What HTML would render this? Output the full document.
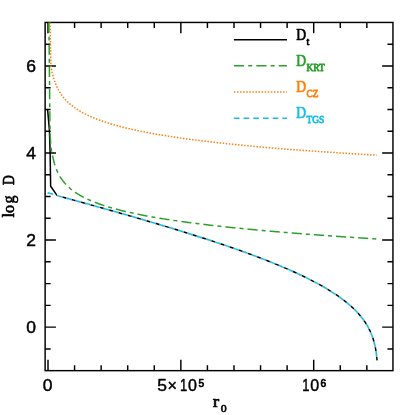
<!DOCTYPE html>
<html><head><meta charset="utf-8"><title>plot</title>
<style>html,body{margin:0;padding:0;background:#fff;}svg{display:block;}text{font-family:"Liberation Sans",sans-serif;}</style></head><body>
<svg width="415" height="415" viewBox="0 0 415 415">
<rect width="415" height="415" fill="#fff"/>
<g stroke="#000" stroke-width="1.45" fill="none" stroke-linecap="butt">
<rect x="45.13" y="22.45" width="347.82" height="348.20"/>
<path d="M48.00 370.65 v-10.8 M48.00 22.45 v10.8"/>
<path d="M74.57 370.65 v-5.5 M74.57 22.45 v5.5"/>
<path d="M101.14 370.65 v-5.5 M101.14 22.45 v5.5"/>
<path d="M127.71 370.65 v-5.5 M127.71 22.45 v5.5"/>
<path d="M154.28 370.65 v-5.5 M154.28 22.45 v5.5"/>
<path d="M180.85 370.65 v-10.8 M180.85 22.45 v10.8"/>
<path d="M207.42 370.65 v-5.5 M207.42 22.45 v5.5"/>
<path d="M233.99 370.65 v-5.5 M233.99 22.45 v5.5"/>
<path d="M260.56 370.65 v-5.5 M260.56 22.45 v5.5"/>
<path d="M287.13 370.65 v-5.5 M287.13 22.45 v5.5"/>
<path d="M313.70 370.65 v-10.8 M313.70 22.45 v10.8"/>
<path d="M340.27 370.65 v-5.5 M340.27 22.45 v5.5"/>
<path d="M366.84 370.65 v-5.5 M366.84 22.45 v5.5"/>
<path d="M45.13 348.90 h5.5 M392.95 348.90 h-5.5"/>
<path d="M45.13 327.14 h10.8 M392.95 327.14 h-10.8"/>
<path d="M45.13 305.38 h5.5 M392.95 305.38 h-5.5"/>
<path d="M45.13 283.61 h5.5 M392.95 283.61 h-5.5"/>
<path d="M45.13 261.84 h5.5 M392.95 261.84 h-5.5"/>
<path d="M45.13 240.08 h10.8 M392.95 240.08 h-10.8"/>
<path d="M45.13 218.31 h5.5 M392.95 218.31 h-5.5"/>
<path d="M45.13 196.55 h5.5 M392.95 196.55 h-5.5"/>
<path d="M45.13 174.78 h5.5 M392.95 174.78 h-5.5"/>
<path d="M45.13 153.02 h10.8 M392.95 153.02 h-10.8"/>
<path d="M45.13 131.25 h5.5 M392.95 131.25 h-5.5"/>
<path d="M45.13 109.49 h5.5 M392.95 109.49 h-5.5"/>
<path d="M45.13 87.72 h5.5 M392.95 87.72 h-5.5"/>
<path d="M45.13 65.96 h10.8 M392.95 65.96 h-10.8"/>
<path d="M45.13 44.19 h5.5 M392.95 44.19 h-5.5"/>
</g>
<path d="M47.60 109.60 L49.40 130.00 L50.10 151.70 L50.65 186.30 L57.00 195.40 L59.38 196.23 L61.76 196.88 L64.13 197.53 L66.51 198.18 L68.89 198.83 L71.27 199.48 L73.65 200.13 L76.03 200.78 L78.40 201.44 L80.78 202.09 L83.16 202.75 L85.54 203.41 L87.92 204.07 L90.29 204.72 L92.67 205.39 L95.05 206.05 L97.43 206.71 L99.81 207.37 L102.18 208.04 L104.56 208.71 L106.94 209.38 L109.32 210.05 L111.70 210.72 L114.08 211.39 L116.45 212.06 L118.83 212.74 L121.21 213.42 L123.59 214.09 L125.97 214.77 L128.34 215.46 L130.72 216.14 L133.10 216.83 L135.48 217.51 L137.86 218.20 L140.24 218.89 L142.61 219.59 L144.99 220.28 L147.37 220.98 L149.75 221.68 L152.13 222.38 L154.50 223.08 L156.88 223.79 L159.26 224.50 L161.64 225.21 L164.02 225.92 L166.39 226.64 L168.77 227.36 L171.15 228.08 L173.53 228.80 L175.91 229.53 L178.29 230.26 L180.66 230.99 L183.04 231.73 L185.42 232.46 L187.80 233.21 L190.18 233.95 L192.55 234.70 L194.93 235.45 L197.31 236.21 L199.69 236.97 L202.07 237.73 L204.45 238.50 L206.82 239.27 L209.20 240.04 L211.58 240.82 L213.96 241.61 L216.34 242.39 L218.71 243.19 L221.09 243.98 L223.47 244.79 L225.85 245.60 L228.23 246.41 L230.61 247.23 L232.98 248.05 L235.36 248.88 L237.74 249.72 L240.12 250.56 L242.50 251.41 L244.87 252.26 L247.25 253.12 L249.63 253.99 L252.01 254.87 L254.39 255.75 L256.76 256.64 L259.14 257.54 L261.52 258.45 L263.90 259.37 L266.28 260.29 L268.66 261.23 L271.03 262.17 L273.41 263.13 L275.79 264.10 L278.17 265.07 L280.55 266.06 L282.92 267.07 L285.30 268.08 L287.68 269.11 L290.06 270.15 L292.44 271.21 L294.82 272.28 L297.19 273.37 L299.57 274.48 L301.95 275.60 L304.33 276.75 L306.71 277.91 L309.08 279.10 L311.46 280.31 L313.84 281.55 L316.22 282.81 L318.60 284.10 L320.97 285.42 L323.35 286.77 L325.73 288.16 L328.11 289.58 L330.49 291.05 L332.87 292.56 L335.24 294.13 L337.62 295.74 L340.00 297.42 L340.51 297.79 L341.02 298.16 L341.53 298.53 L342.03 298.91 L342.54 299.29 L343.05 299.68 L343.56 300.06 L344.07 300.45 L344.58 300.85 L345.08 301.25 L345.59 301.65 L346.10 302.06 L346.61 302.47 L347.12 302.88 L347.63 303.30 L348.14 303.73 L348.64 304.16 L349.15 304.59 L349.66 305.03 L350.17 305.48 L350.68 305.93 L351.19 306.38 L351.69 306.84 L352.20 307.31 L352.71 307.79 L353.22 308.27 L353.73 308.75 L354.24 309.25 L354.75 309.75 L355.25 310.26 L355.76 310.77 L356.27 311.30 L356.78 311.83 L357.29 312.37 L357.80 312.92 L358.31 313.48 L358.81 314.05 L359.32 314.63 L359.83 315.23 L360.34 315.83 L360.85 316.45 L361.36 317.07 L361.86 317.72 L362.37 318.38 L362.88 319.05 L363.39 319.74 L363.90 320.44 L364.41 321.17 L364.92 321.91 L365.42 322.68 L365.93 323.47 L366.44 324.28 L366.95 325.12 L367.46 325.99 L367.97 326.89 L368.47 327.83 L368.98 328.80 L369.49 329.82 L370.00 330.88 L370.06 331.01 L370.12 331.14 L370.18 331.27 L370.24 331.40 L370.30 331.53 L370.36 331.66 L370.42 331.80 L370.48 331.93 L370.54 332.07 L370.60 332.20 L370.66 332.34 L370.72 332.47 L370.78 332.61 L370.84 332.75 L370.90 332.89 L370.96 333.03 L371.02 333.17 L371.08 333.32 L371.14 333.46 L371.20 333.60 L371.26 333.75 L371.32 333.89 L371.38 334.04 L371.44 334.19 L371.50 334.34 L371.56 334.49 L371.62 334.64 L371.68 334.79 L371.74 334.95 L371.79 335.10 L371.85 335.26 L371.91 335.42 L371.97 335.58 L372.03 335.73 L372.09 335.90 L372.15 336.06 L372.21 336.22 L372.27 336.39 L372.33 336.55 L372.39 336.72 L372.45 336.89 L372.51 337.06 L372.57 337.23 L372.63 337.40 L372.69 337.58 L372.75 337.76 L372.81 337.93 L372.87 338.11 L372.93 338.29 L372.99 338.48 L373.05 338.66 L373.11 338.85 L373.17 339.04 L373.23 339.23 L373.29 339.42 L373.35 339.61 L373.41 339.81 L373.47 340.01 L373.53 340.21 L373.59 340.41 L373.65 340.61 L373.71 340.82 L373.77 341.03 L373.83 341.24 L373.89 341.45 L373.95 341.67 L374.01 341.89 L374.07 342.11 L374.13 342.33 L374.19 342.56 L374.25 342.79 L374.31 343.02 L374.37 343.25 L374.43 343.49 L374.49 343.74 L374.55 343.98 L374.61 344.23 L374.67 344.48 L374.73 344.74 L374.79 345.00 L374.85 345.26 L374.91 345.53 L374.97 345.80 L375.03 346.07 L375.09 346.35 L375.15 346.64 L375.21 346.93 L375.27 347.22 L375.33 347.52 L375.38 347.83 L375.44 348.14 L375.50 348.46 L375.56 348.78 L375.62 349.11 L375.68 349.45 L375.74 349.79 L375.80 350.15 L375.86 350.50 L375.92 350.87 L375.98 351.25 L376.04 351.63 L376.10 352.03 L376.16 352.44 L376.22 352.85 L376.28 353.28 L376.34 353.72 L376.40 354.17 L376.46 354.64 L376.52 355.12 L376.58 355.62 L376.64 356.14 L376.70 356.67 L376.76 357.23 L376.82 357.81 L376.88 358.41 L376.94 359.04 L377.00 359.69 L377.06 360.38" fill="none" stroke="#000" stroke-width="1.5" stroke-linejoin="round"/>
<path d="M48.90 22.45 L48.91 23.13 L48.91 23.80 L48.92 24.48 L48.93 25.15 L48.94 25.83 L48.94 26.50 L48.95 27.18 L48.96 27.86 L48.97 28.53 L48.97 29.21 L48.98 29.88 L48.99 30.56 L49.00 31.23 L49.00 31.91 L49.01 32.58 L49.02 33.26 L49.03 33.94 L49.03 34.61 L49.04 35.29 L49.05 35.96 L49.05 36.64 L49.06 37.31 L49.07 37.99 L49.08 38.67 L49.08 39.34 L49.09 40.02 L49.10 40.69 L49.10 41.37 L49.11 42.04 L49.12 42.72 L49.13 43.39 L49.13 44.07 L49.14 44.75 L49.15 45.42 L49.15 46.10 L49.16 46.77 L49.17 47.45 L49.18 48.12 L49.18 48.80 L49.19 49.48 L49.20 50.15 L49.20 50.83 L49.21 51.50 L49.22 52.18 L49.23 52.85 L49.23 53.53 L49.24 54.20 L49.25 54.88 L49.25 55.56 L49.26 56.23 L49.27 56.91 L49.28 57.58 L49.28 58.26 L49.29 58.93 L49.30 59.61 L49.30 60.29 L49.31 60.96 L49.32 61.64 L49.32 62.31 L49.33 62.99 L49.34 63.66 L49.34 64.34 L49.35 65.01 L49.36 65.69 L49.36 66.37 L49.37 67.04 L49.38 67.72 L49.39 68.39 L49.39 69.07 L49.40 69.74 L49.41 70.42 L49.41 71.10 L49.42 71.77 L49.43 72.45 L49.43 73.12 L49.44 73.80 L49.45 74.47 L49.45 75.15 L49.46 75.82 L49.47 76.50 L49.47 77.18 L49.48 77.85 L49.49 78.53 L49.49 79.20 L49.50 79.88 L49.51 80.55 L49.51 81.23 L49.52 81.91 L49.53 82.58 L49.53 83.26 L49.54 83.93 L49.55 84.61 L49.55 85.28 L49.56 85.96 L49.57 86.63 L49.57 87.31 L49.58 87.99 L49.59 88.66 L49.59 89.34 L49.60 90.01 L49.61 90.69 L49.61 91.36 L49.62 92.04 L49.63 92.72 L49.63 93.39 L49.64 94.07 L49.65 94.74 L49.65 95.42 L49.66 96.09 L49.66 96.77 L49.67 97.44 L49.68 98.12 L49.68 98.80 L49.69 99.47 L49.70 100.15 L49.70 100.82 L49.71 101.50 L49.72 102.17 L49.72 102.85 L49.73 103.53 L49.74 104.20 L49.74 104.88 L49.75 105.55 L49.76 106.23 L49.76 106.90 L49.77 107.58 L49.78 108.25 L49.79 108.93 L49.80 109.61 L49.80 110.28 L49.81 110.96 L49.82 111.63 L49.83 112.31 L49.84 112.98 L49.84 113.66 L49.85 114.34 L49.86 115.01 L49.87 115.69 L49.87 116.36 L49.88 117.04 L49.89 117.71 L49.90 118.39 L49.91 119.06 L49.91 119.74 L49.92 120.42 L49.93 121.09 L49.94 121.77 L49.95 122.44 L49.96 123.12 L49.97 123.79 L49.98 124.47 L49.99 125.15 L50.00 125.82 L50.01 126.50 L50.02 127.17 L50.04 127.85 L50.05 128.52 L50.06 129.20 L50.08 129.87 L50.09 130.55 L50.11 131.23 L50.12 131.90 L50.14 132.58 L50.15 133.25 L50.17 133.93 L50.19 134.60 L50.21 135.28 L50.23 135.96 L50.26 136.63 L50.29 137.31 L50.33 137.98 L50.36 138.66 L50.41 139.33 L50.45 140.01 L50.50 140.68 L50.55 141.36 L50.60 142.04 L50.65 142.71 L50.71 143.39 L50.76 144.06 L50.82 144.74 L50.88 145.41 L50.95 146.09 L51.02 146.77 L51.10 147.44 L51.18 148.12 L51.26 148.79 L51.35 149.47 L51.45 150.14 L51.55 150.82 L51.66 151.49 L51.78 152.17 L51.91 152.85 L52.05 153.52 L52.19 154.20 L52.34 154.87 L52.49 155.55 L52.64 156.22 L52.80 156.90 L53.11 158.34 L53.43 159.71 L53.74 160.98 L54.05 162.17 L54.36 163.29 L54.68 164.35 L54.99 165.35 L55.30 166.30 L55.61 167.20 L55.93 168.05 L56.24 168.87 L56.55 169.65 L56.86 170.40 L57.18 171.12 L57.49 171.81 L57.80 172.48 L58.11 173.12 L58.43 173.74 L58.74 174.34 L59.05 174.92 L59.36 175.48 L59.68 176.03 L59.99 176.56 L60.30 177.07 L60.62 177.57 L60.93 178.05 L61.24 178.52 L61.55 178.98 L61.87 179.43 L62.18 179.87 L62.49 180.29 L62.80 180.71 L63.12 181.12 L63.43 181.51 L63.74 181.90 L64.05 182.28 L64.37 182.66 L64.68 183.02 L64.99 183.38 L65.30 183.73 L65.62 184.07 L65.93 184.41 L66.24 184.74 L66.55 185.06 L66.87 185.38 L67.18 185.70 L67.49 186.00 L67.81 186.30 L68.12 186.60 L68.43 186.89 L68.74 187.18 L69.06 187.46 L69.37 187.74 L69.68 188.02 L69.99 188.29 L70.31 188.55 L70.62 188.82 L70.93 189.07 L71.24 189.33 L71.56 189.58 L71.87 189.83 L72.18 190.07 L72.49 190.31 L72.81 190.55 L73.12 190.78 L73.43 191.01 L73.74 191.24 L74.06 191.47 L74.37 191.69 L74.68 191.91 L74.99 192.13 L75.31 192.34 L75.62 192.55 L75.93 192.76 L76.25 192.97 L76.56 193.17 L76.87 193.37 L77.18 193.57 L77.50 193.77 L77.81 193.97 L78.12 194.16 L78.43 194.35 L78.75 194.54 L79.06 194.73 L79.37 194.91 L79.68 195.10 L80.00 195.28 L80.31 195.46 L80.62 195.64 L80.93 195.81 L81.25 195.99 L81.56 196.16 L81.87 196.33 L82.18 196.50 L82.50 196.67 L82.81 196.83 L83.12 197.00 L83.44 197.16 L83.75 197.32 L84.06 197.48 L84.37 197.64 L84.69 197.80 L85.00 197.96 L85.31 198.11 L85.62 198.26 L85.94 198.42 L86.25 198.57 L86.56 198.72 L86.87 198.86 L87.19 199.01 L87.50 199.16 L87.81 199.30 L88.12 199.44 L88.44 199.59 L88.75 199.73 L89.06 199.87 L89.37 200.01 L89.69 200.15 L90.00 200.28 L91.15 200.78 L92.31 201.26 L93.46 201.73 L94.61 202.19 L95.77 202.64 L96.92 203.07 L98.07 203.50 L99.23 203.92 L100.38 204.32 L101.53 204.72 L102.69 205.11 L103.84 205.49 L104.99 205.87 L106.15 206.23 L107.30 206.59 L108.45 206.94 L109.61 207.29 L110.76 207.63 L111.91 207.96 L113.07 208.29 L114.22 208.61 L115.38 208.92 L116.53 209.23 L117.68 209.54 L118.84 209.84 L119.99 210.13 L121.14 210.42 L122.30 210.71 L123.45 210.99 L124.60 211.27 L125.76 211.54 L126.91 211.81 L128.06 212.08 L129.22 212.34 L130.37 212.60 L131.52 212.85 L132.68 213.10 L133.83 213.35 L134.98 213.60 L136.14 213.84 L137.29 214.08 L138.44 214.31 L139.60 214.55 L140.75 214.78 L141.90 215.00 L143.06 215.23 L144.21 215.45 L145.36 215.67 L146.52 215.89 L147.67 216.10 L148.82 216.31 L149.98 216.52 L151.13 216.73 L152.28 216.93 L153.44 217.14 L154.59 217.34 L155.74 217.54 L156.90 217.73 L158.05 217.93 L159.20 218.12 L160.36 218.31 L161.51 218.50 L162.67 218.69 L163.82 218.87 L164.97 219.06 L166.13 219.24 L167.28 219.42 L168.43 219.60 L169.59 219.77 L170.74 219.95 L171.89 220.12 L173.05 220.29 L174.20 220.46 L175.35 220.63 L176.51 220.80 L177.66 220.97 L178.81 221.13 L179.97 221.30 L181.12 221.46 L182.27 221.62 L183.43 221.78 L184.58 221.94 L185.73 222.09 L186.89 222.25 L188.04 222.40 L189.19 222.56 L190.35 222.71 L191.50 222.86 L192.65 223.01 L193.81 223.16 L194.96 223.31 L196.11 223.45 L197.27 223.60 L198.42 223.74 L199.57 223.89 L200.73 224.03 L201.88 224.17 L203.03 224.31 L204.19 224.45 L205.34 224.59 L206.49 224.73 L207.65 224.86 L208.80 225.00 L209.96 225.13 L211.11 225.27 L212.26 225.40 L213.42 225.53 L214.57 225.66 L215.72 225.79 L216.88 225.92 L218.03 226.05 L219.18 226.18 L220.34 226.31 L221.49 226.43 L222.64 226.56 L223.80 226.69 L224.95 226.81 L226.10 226.93 L227.26 227.06 L228.41 227.18 L229.56 227.30 L230.72 227.42 L231.87 227.54 L233.02 227.66 L234.18 227.78 L235.33 227.89 L236.48 228.01 L237.64 228.13 L238.79 228.24 L239.94 228.36 L241.10 228.47 L242.25 228.59 L243.40 228.70 L244.56 228.81 L245.71 228.92 L246.86 229.04 L248.02 229.15 L249.17 229.26 L250.32 229.37 L251.48 229.48 L252.63 229.58 L253.78 229.69 L254.94 229.80 L256.09 229.91 L257.24 230.01 L258.40 230.12 L259.55 230.22 L260.71 230.33 L261.86 230.43 L263.01 230.54 L264.17 230.64 L265.32 230.74 L266.47 230.85 L267.63 230.95 L268.78 231.05 L269.93 231.15 L271.09 231.25 L272.24 231.35 L273.39 231.45 L274.55 231.55 L275.70 231.65 L276.85 231.75 L278.01 231.84 L279.16 231.94 L280.31 232.04 L281.47 232.13 L282.62 232.23 L283.77 232.33 L284.93 232.42 L286.08 232.52 L287.23 232.61 L288.39 232.70 L289.54 232.80 L290.69 232.89 L291.85 232.98 L293.00 233.07 L294.15 233.17 L295.31 233.26 L296.46 233.35 L297.61 233.44 L298.77 233.53 L299.92 233.62 L301.07 233.71 L302.23 233.80 L303.38 233.89 L304.53 233.98 L305.69 234.07 L306.84 234.15 L308.00 234.24 L309.15 234.33 L310.30 234.41 L311.46 234.50 L312.61 234.59 L313.76 234.67 L314.92 234.76 L316.07 234.84 L317.22 234.93 L318.38 235.01 L319.53 235.10 L320.68 235.18 L321.84 235.27 L322.99 235.35 L324.14 235.43 L325.30 235.51 L326.45 235.60 L327.60 235.68 L328.76 235.76 L329.91 235.84 L331.06 235.92 L332.22 236.00 L333.37 236.08 L334.52 236.17 L335.68 236.25 L336.83 236.33 L337.98 236.40 L339.14 236.48 L340.29 236.56 L341.44 236.64 L342.60 236.72 L343.75 236.80 L344.90 236.88 L346.06 236.95 L347.21 237.03 L348.36 237.11 L349.52 237.19 L350.67 237.26 L351.82 237.34 L352.98 237.41 L354.13 237.49 L355.29 237.57 L356.44 237.64 L357.59 237.72 L358.75 237.79 L359.90 237.87 L361.05 237.94 L362.21 238.01 L363.36 238.09 L364.51 238.16 L365.67 238.24 L366.82 238.31 L367.97 238.38 L369.13 238.45 L370.28 238.53 L371.43 238.60 L372.59 238.67 L373.74 238.74 L374.89 238.82 L376.05 238.89 L377.20 238.96" fill="none" stroke="#2ca02c" stroke-width="1.5" stroke-dasharray="10.15 4.05 3.95 4.05"/>
<path d="M50.10 22.55 L50.90 65.00 L51.50 69.60 L52.20 72.90 L53.00 76.04 L53.32 77.20 L53.63 78.29 L53.95 79.32 L54.26 80.29 L54.58 81.22 L54.89 82.11 L55.21 82.96 L55.52 83.76 L55.84 84.54 L56.15 85.29 L56.47 86.00 L56.79 86.70 L57.10 87.36 L57.42 88.01 L57.73 88.63 L58.05 89.23 L58.36 89.82 L58.68 90.38 L58.99 90.93 L59.31 91.47 L59.62 91.99 L59.94 92.50 L60.26 92.99 L60.57 93.47 L60.89 93.94 L61.20 94.39 L61.52 94.84 L61.83 95.28 L62.15 95.70 L62.46 96.12 L62.78 96.53 L63.09 96.93 L63.41 97.32 L63.72 97.70 L64.04 98.08 L64.36 98.45 L64.67 98.81 L64.99 99.16 L65.30 99.51 L65.62 99.85 L65.93 100.19 L66.25 100.52 L66.56 100.84 L66.88 101.16 L67.19 101.47 L67.51 101.78 L67.83 102.08 L68.14 102.38 L68.46 102.67 L68.77 102.96 L69.09 103.25 L69.40 103.53 L69.72 103.81 L70.03 104.08 L70.35 104.35 L70.66 104.61 L70.98 104.87 L71.30 105.13 L71.61 105.39 L71.93 105.64 L72.24 105.88 L72.56 106.13 L72.87 106.37 L73.19 106.61 L73.50 106.84 L73.82 107.08 L74.13 107.31 L74.45 107.53 L74.77 107.76 L75.08 107.98 L75.40 108.20 L75.71 108.41 L76.03 108.63 L76.34 108.84 L76.66 109.05 L76.97 109.26 L77.29 109.46 L77.60 109.66 L77.92 109.86 L78.23 110.06 L78.55 110.26 L78.87 110.45 L79.18 110.64 L79.50 110.83 L79.81 111.02 L80.13 111.21 L80.44 111.39 L80.76 111.58 L81.07 111.76 L81.39 111.94 L81.70 112.11 L82.02 112.29 L82.34 112.47 L82.65 112.64 L82.97 112.81 L83.28 112.98 L83.60 113.15 L83.91 113.31 L84.23 113.48 L84.54 113.64 L84.86 113.81 L85.17 113.97 L85.49 114.13 L85.81 114.29 L86.12 114.44 L86.44 114.60 L86.75 114.75 L87.07 114.91 L87.38 115.06 L87.70 115.21 L88.01 115.36 L88.33 115.51 L88.64 115.65 L88.96 115.80 L89.28 115.95 L89.59 116.09 L89.91 116.23 L90.22 116.37 L90.54 116.51 L90.85 116.65 L91.17 116.79 L91.48 116.93 L91.80 117.07 L92.11 117.20 L92.43 117.34 L92.74 117.47 L93.06 117.60 L93.38 117.74 L93.69 117.87 L94.01 118.00 L94.32 118.13 L94.64 118.25 L94.95 118.38 L95.27 118.51 L95.58 118.63 L95.90 118.76 L96.21 118.88 L96.53 119.01 L96.85 119.13 L97.16 119.25 L97.48 119.37 L97.79 119.49 L98.11 119.61 L98.42 119.73 L98.74 119.85 L99.05 119.96 L99.37 120.08 L99.68 120.20 L100.00 120.31 L100.93 120.65 L101.85 120.97 L102.78 121.30 L103.70 121.61 L104.63 121.92 L105.55 122.23 L106.48 122.53 L107.41 122.83 L108.33 123.12 L109.26 123.41 L110.18 123.69 L111.11 123.97 L112.03 124.25 L112.96 124.52 L113.89 124.79 L114.81 125.05 L115.74 125.31 L116.66 125.57 L117.59 125.82 L118.52 126.07 L119.44 126.32 L120.37 126.56 L121.29 126.80 L122.22 127.04 L123.14 127.27 L124.07 127.50 L125.00 127.73 L125.92 127.96 L126.85 128.18 L127.77 128.40 L128.70 128.62 L129.62 128.84 L130.55 129.05 L131.48 129.26 L132.40 129.47 L133.33 129.67 L134.25 129.88 L135.18 130.08 L136.10 130.28 L137.03 130.48 L137.96 130.67 L138.88 130.87 L139.81 131.06 L140.73 131.25 L141.66 131.44 L142.58 131.62 L143.51 131.81 L144.44 131.99 L145.36 132.17 L146.29 132.35 L147.21 132.53 L148.14 132.70 L149.06 132.87 L149.99 133.05 L150.92 133.22 L151.84 133.39 L152.77 133.55 L153.69 133.72 L154.62 133.89 L155.55 134.05 L156.47 134.21 L157.40 134.37 L158.32 134.53 L159.25 134.69 L160.17 134.85 L161.10 135.00 L162.03 135.16 L162.95 135.31 L163.88 135.46 L164.80 135.61 L165.73 135.76 L166.65 135.91 L167.58 136.05 L168.51 136.20 L169.43 136.35 L170.36 136.49 L171.28 136.63 L172.21 136.77 L173.13 136.91 L174.06 137.05 L174.99 137.19 L175.91 137.33 L176.84 137.46 L177.76 137.60 L178.69 137.73 L179.61 137.87 L180.54 138.00 L181.47 138.13 L182.39 138.26 L183.32 138.39 L184.24 138.52 L185.17 138.65 L186.09 138.78 L187.02 138.90 L187.95 139.03 L188.87 139.15 L189.80 139.28 L190.72 139.40 L191.65 139.52 L192.58 139.64 L193.50 139.76 L194.43 139.88 L195.35 140.00 L196.28 140.12 L197.20 140.24 L198.13 140.36 L199.06 140.47 L199.98 140.59 L200.91 140.70 L201.83 140.82 L202.76 140.93 L203.68 141.04 L204.61 141.15 L205.54 141.27 L206.46 141.38 L207.39 141.49 L208.31 141.60 L209.24 141.71 L210.16 141.81 L211.09 141.92 L212.02 142.03 L212.94 142.13 L213.87 142.24 L214.79 142.35 L215.72 142.45 L216.64 142.55 L217.57 142.66 L218.50 142.76 L219.42 142.86 L220.35 142.97 L221.27 143.07 L222.20 143.17 L223.13 143.27 L224.05 143.37 L224.98 143.47 L225.90 143.56 L226.83 143.66 L227.75 143.76 L228.68 143.86 L229.61 143.95 L230.53 144.05 L231.46 144.15 L232.38 144.24 L233.31 144.34 L234.23 144.43 L235.16 144.52 L236.09 144.62 L237.01 144.71 L237.94 144.80 L238.86 144.89 L239.79 144.99 L240.71 145.08 L241.64 145.17 L242.57 145.26 L243.49 145.35 L244.42 145.44 L245.34 145.53 L246.27 145.61 L247.19 145.70 L248.12 145.79 L249.05 145.88 L249.97 145.96 L250.90 146.05 L251.82 146.14 L252.75 146.22 L253.67 146.31 L254.60 146.39 L255.53 146.48 L256.45 146.56 L257.38 146.64 L258.30 146.73 L259.23 146.81 L260.16 146.89 L261.08 146.98 L262.01 147.06 L262.93 147.14 L263.86 147.22 L264.78 147.30 L265.71 147.38 L266.64 147.46 L267.56 147.54 L268.49 147.62 L269.41 147.70 L270.34 147.78 L271.26 147.86 L272.19 147.94 L273.12 148.01 L274.04 148.09 L274.97 148.17 L275.89 148.25 L276.82 148.32 L277.74 148.40 L278.67 148.48 L279.60 148.55 L280.52 148.63 L281.45 148.70 L282.37 148.78 L283.30 148.85 L284.22 148.93 L285.15 149.00 L286.08 149.07 L287.00 149.15 L287.93 149.22 L288.85 149.29 L289.78 149.36 L290.71 149.44 L291.63 149.51 L292.56 149.58 L293.48 149.65 L294.41 149.72 L295.33 149.79 L296.26 149.86 L297.19 149.94 L298.11 150.01 L299.04 150.08 L299.96 150.14 L300.89 150.21 L301.81 150.28 L302.74 150.35 L303.67 150.42 L304.59 150.49 L305.52 150.56 L306.44 150.62 L307.37 150.69 L308.29 150.76 L309.22 150.83 L310.15 150.89 L311.07 150.96 L312.00 151.03 L312.92 151.09 L313.85 151.16 L314.77 151.22 L315.70 151.29 L316.63 151.36 L317.55 151.42 L318.48 151.49 L319.40 151.55 L320.33 151.61 L321.25 151.68 L322.18 151.74 L323.11 151.81 L324.03 151.87 L324.96 151.93 L325.88 152.00 L326.81 152.06 L327.74 152.12 L328.66 152.18 L329.59 152.25 L330.51 152.31 L331.44 152.37 L332.36 152.43 L333.29 152.49 L334.22 152.55 L335.14 152.62 L336.07 152.68 L336.99 152.74 L337.92 152.80 L338.84 152.86 L339.77 152.92 L340.70 152.98 L341.62 153.04 L342.55 153.10 L343.47 153.16 L344.40 153.22 L345.32 153.27 L346.25 153.33 L347.18 153.39 L348.10 153.45 L349.03 153.51 L349.95 153.57 L350.88 153.62 L351.80 153.68 L352.73 153.74 L353.66 153.80 L354.58 153.85 L355.51 153.91 L356.43 153.97 L357.36 154.02 L358.28 154.08 L359.21 154.14 L360.14 154.19 L361.06 154.25 L361.99 154.31 L362.91 154.36 L363.84 154.42 L364.77 154.47 L365.69 154.53 L366.62 154.58 L367.54 154.64 L368.47 154.69 L369.39 154.75 L370.32 154.80 L371.25 154.85 L372.17 154.91 L373.10 154.96 L374.02 155.02 L374.95 155.07 L375.87 155.12 L376.80 155.18" fill="none" stroke="#ff7f0e" stroke-width="1.5" stroke-dasharray="1.5 1.58"/>
<path d="M47.60 192.70 L57.00 195.40 L59.38 196.23 L61.76 196.88 L64.13 197.53 L66.51 198.18 L68.89 198.83 L71.27 199.48 L73.65 200.13 L76.03 200.78 L78.40 201.44 L80.78 202.09 L83.16 202.75 L85.54 203.41 L87.92 204.07 L90.29 204.72 L92.67 205.39 L95.05 206.05 L97.43 206.71 L99.81 207.37 L102.18 208.04 L104.56 208.71 L106.94 209.38 L109.32 210.05 L111.70 210.72 L114.08 211.39 L116.45 212.06 L118.83 212.74 L121.21 213.42 L123.59 214.09 L125.97 214.77 L128.34 215.46 L130.72 216.14 L133.10 216.83 L135.48 217.51 L137.86 218.20 L140.24 218.89 L142.61 219.59 L144.99 220.28 L147.37 220.98 L149.75 221.68 L152.13 222.38 L154.50 223.08 L156.88 223.79 L159.26 224.50 L161.64 225.21 L164.02 225.92 L166.39 226.64 L168.77 227.36 L171.15 228.08 L173.53 228.80 L175.91 229.53 L178.29 230.26 L180.66 230.99 L183.04 231.73 L185.42 232.46 L187.80 233.21 L190.18 233.95 L192.55 234.70 L194.93 235.45 L197.31 236.21 L199.69 236.97 L202.07 237.73 L204.45 238.50 L206.82 239.27 L209.20 240.04 L211.58 240.82 L213.96 241.61 L216.34 242.39 L218.71 243.19 L221.09 243.98 L223.47 244.79 L225.85 245.60 L228.23 246.41 L230.61 247.23 L232.98 248.05 L235.36 248.88 L237.74 249.72 L240.12 250.56 L242.50 251.41 L244.87 252.26 L247.25 253.12 L249.63 253.99 L252.01 254.87 L254.39 255.75 L256.76 256.64 L259.14 257.54 L261.52 258.45 L263.90 259.37 L266.28 260.29 L268.66 261.23 L271.03 262.17 L273.41 263.13 L275.79 264.10 L278.17 265.07 L280.55 266.06 L282.92 267.07 L285.30 268.08 L287.68 269.11 L290.06 270.15 L292.44 271.21 L294.82 272.28 L297.19 273.37 L299.57 274.48 L301.95 275.60 L304.33 276.75 L306.71 277.91 L309.08 279.10 L311.46 280.31 L313.84 281.55 L316.22 282.81 L318.60 284.10 L320.97 285.42 L323.35 286.77 L325.73 288.16 L328.11 289.58 L330.49 291.05 L332.87 292.56 L335.24 294.13 L337.62 295.74 L340.00 297.42 L340.51 297.79 L341.02 298.16 L341.53 298.53 L342.03 298.91 L342.54 299.29 L343.05 299.68 L343.56 300.06 L344.07 300.45 L344.58 300.85 L345.08 301.25 L345.59 301.65 L346.10 302.06 L346.61 302.47 L347.12 302.88 L347.63 303.30 L348.14 303.73 L348.64 304.16 L349.15 304.59 L349.66 305.03 L350.17 305.48 L350.68 305.93 L351.19 306.38 L351.69 306.84 L352.20 307.31 L352.71 307.79 L353.22 308.27 L353.73 308.75 L354.24 309.25 L354.75 309.75 L355.25 310.26 L355.76 310.77 L356.27 311.30 L356.78 311.83 L357.29 312.37 L357.80 312.92 L358.31 313.48 L358.81 314.05 L359.32 314.63 L359.83 315.23 L360.34 315.83 L360.85 316.45 L361.36 317.07 L361.86 317.72 L362.37 318.38 L362.88 319.05 L363.39 319.74 L363.90 320.44 L364.41 321.17 L364.92 321.91 L365.42 322.68 L365.93 323.47 L366.44 324.28 L366.95 325.12 L367.46 325.99 L367.97 326.89 L368.47 327.83 L368.98 328.80 L369.49 329.82 L370.00 330.88 L370.06 331.01 L370.12 331.14 L370.18 331.27 L370.24 331.40 L370.30 331.53 L370.36 331.66 L370.42 331.80 L370.48 331.93 L370.54 332.07 L370.60 332.20 L370.66 332.34 L370.72 332.47 L370.78 332.61 L370.84 332.75 L370.90 332.89 L370.96 333.03 L371.02 333.17 L371.08 333.32 L371.14 333.46 L371.20 333.60 L371.26 333.75 L371.32 333.89 L371.38 334.04 L371.44 334.19 L371.50 334.34 L371.56 334.49 L371.62 334.64 L371.68 334.79 L371.74 334.95 L371.79 335.10 L371.85 335.26 L371.91 335.42 L371.97 335.58 L372.03 335.73 L372.09 335.90 L372.15 336.06 L372.21 336.22 L372.27 336.39 L372.33 336.55 L372.39 336.72 L372.45 336.89 L372.51 337.06 L372.57 337.23 L372.63 337.40 L372.69 337.58 L372.75 337.76 L372.81 337.93 L372.87 338.11 L372.93 338.29 L372.99 338.48 L373.05 338.66 L373.11 338.85 L373.17 339.04 L373.23 339.23 L373.29 339.42 L373.35 339.61 L373.41 339.81 L373.47 340.01 L373.53 340.21 L373.59 340.41 L373.65 340.61 L373.71 340.82 L373.77 341.03 L373.83 341.24 L373.89 341.45 L373.95 341.67 L374.01 341.89 L374.07 342.11 L374.13 342.33 L374.19 342.56 L374.25 342.79 L374.31 343.02 L374.37 343.25 L374.43 343.49 L374.49 343.74 L374.55 343.98 L374.61 344.23 L374.67 344.48 L374.73 344.74 L374.79 345.00 L374.85 345.26 L374.91 345.53 L374.97 345.80 L375.03 346.07 L375.09 346.35 L375.15 346.64 L375.21 346.93 L375.27 347.22 L375.33 347.52 L375.38 347.83 L375.44 348.14 L375.50 348.46 L375.56 348.78 L375.62 349.11 L375.68 349.45 L375.74 349.79 L375.80 350.15 L375.86 350.50 L375.92 350.87 L375.98 351.25 L376.04 351.63 L376.10 352.03 L376.16 352.44 L376.22 352.85 L376.28 353.28 L376.34 353.72 L376.40 354.17 L376.46 354.64 L376.52 355.12 L376.58 355.62 L376.64 356.14 L376.70 356.67 L376.76 357.23 L376.82 357.81 L376.88 358.41 L376.94 359.04 L377.00 359.69 L377.06 360.38" fill="none" stroke="#fff" stroke-width="2.4" stroke-dasharray="5.8 3.9"/>
<path d="M47.60 192.70 L57.00 195.40 L59.38 196.23 L61.76 196.88 L64.13 197.53 L66.51 198.18 L68.89 198.83 L71.27 199.48 L73.65 200.13 L76.03 200.78 L78.40 201.44 L80.78 202.09 L83.16 202.75 L85.54 203.41 L87.92 204.07 L90.29 204.72 L92.67 205.39 L95.05 206.05 L97.43 206.71 L99.81 207.37 L102.18 208.04 L104.56 208.71 L106.94 209.38 L109.32 210.05 L111.70 210.72 L114.08 211.39 L116.45 212.06 L118.83 212.74 L121.21 213.42 L123.59 214.09 L125.97 214.77 L128.34 215.46 L130.72 216.14 L133.10 216.83 L135.48 217.51 L137.86 218.20 L140.24 218.89 L142.61 219.59 L144.99 220.28 L147.37 220.98 L149.75 221.68 L152.13 222.38 L154.50 223.08 L156.88 223.79 L159.26 224.50 L161.64 225.21 L164.02 225.92 L166.39 226.64 L168.77 227.36 L171.15 228.08 L173.53 228.80 L175.91 229.53 L178.29 230.26 L180.66 230.99 L183.04 231.73 L185.42 232.46 L187.80 233.21 L190.18 233.95 L192.55 234.70 L194.93 235.45 L197.31 236.21 L199.69 236.97 L202.07 237.73 L204.45 238.50 L206.82 239.27 L209.20 240.04 L211.58 240.82 L213.96 241.61 L216.34 242.39 L218.71 243.19 L221.09 243.98 L223.47 244.79 L225.85 245.60 L228.23 246.41 L230.61 247.23 L232.98 248.05 L235.36 248.88 L237.74 249.72 L240.12 250.56 L242.50 251.41 L244.87 252.26 L247.25 253.12 L249.63 253.99 L252.01 254.87 L254.39 255.75 L256.76 256.64 L259.14 257.54 L261.52 258.45 L263.90 259.37 L266.28 260.29 L268.66 261.23 L271.03 262.17 L273.41 263.13 L275.79 264.10 L278.17 265.07 L280.55 266.06 L282.92 267.07 L285.30 268.08 L287.68 269.11 L290.06 270.15 L292.44 271.21 L294.82 272.28 L297.19 273.37 L299.57 274.48 L301.95 275.60 L304.33 276.75 L306.71 277.91 L309.08 279.10 L311.46 280.31 L313.84 281.55 L316.22 282.81 L318.60 284.10 L320.97 285.42 L323.35 286.77 L325.73 288.16 L328.11 289.58 L330.49 291.05 L332.87 292.56 L335.24 294.13 L337.62 295.74 L340.00 297.42 L340.51 297.79 L341.02 298.16 L341.53 298.53 L342.03 298.91 L342.54 299.29 L343.05 299.68 L343.56 300.06 L344.07 300.45 L344.58 300.85 L345.08 301.25 L345.59 301.65 L346.10 302.06 L346.61 302.47 L347.12 302.88 L347.63 303.30 L348.14 303.73 L348.64 304.16 L349.15 304.59 L349.66 305.03 L350.17 305.48 L350.68 305.93 L351.19 306.38 L351.69 306.84 L352.20 307.31 L352.71 307.79 L353.22 308.27 L353.73 308.75 L354.24 309.25 L354.75 309.75 L355.25 310.26 L355.76 310.77 L356.27 311.30 L356.78 311.83 L357.29 312.37 L357.80 312.92 L358.31 313.48 L358.81 314.05 L359.32 314.63 L359.83 315.23 L360.34 315.83 L360.85 316.45 L361.36 317.07 L361.86 317.72 L362.37 318.38 L362.88 319.05 L363.39 319.74 L363.90 320.44 L364.41 321.17 L364.92 321.91 L365.42 322.68 L365.93 323.47 L366.44 324.28 L366.95 325.12 L367.46 325.99 L367.97 326.89 L368.47 327.83 L368.98 328.80 L369.49 329.82 L370.00 330.88 L370.06 331.01 L370.12 331.14 L370.18 331.27 L370.24 331.40 L370.30 331.53 L370.36 331.66 L370.42 331.80 L370.48 331.93 L370.54 332.07 L370.60 332.20 L370.66 332.34 L370.72 332.47 L370.78 332.61 L370.84 332.75 L370.90 332.89 L370.96 333.03 L371.02 333.17 L371.08 333.32 L371.14 333.46 L371.20 333.60 L371.26 333.75 L371.32 333.89 L371.38 334.04 L371.44 334.19 L371.50 334.34 L371.56 334.49 L371.62 334.64 L371.68 334.79 L371.74 334.95 L371.79 335.10 L371.85 335.26 L371.91 335.42 L371.97 335.58 L372.03 335.73 L372.09 335.90 L372.15 336.06 L372.21 336.22 L372.27 336.39 L372.33 336.55 L372.39 336.72 L372.45 336.89 L372.51 337.06 L372.57 337.23 L372.63 337.40 L372.69 337.58 L372.75 337.76 L372.81 337.93 L372.87 338.11 L372.93 338.29 L372.99 338.48 L373.05 338.66 L373.11 338.85 L373.17 339.04 L373.23 339.23 L373.29 339.42 L373.35 339.61 L373.41 339.81 L373.47 340.01 L373.53 340.21 L373.59 340.41 L373.65 340.61 L373.71 340.82 L373.77 341.03 L373.83 341.24 L373.89 341.45 L373.95 341.67 L374.01 341.89 L374.07 342.11 L374.13 342.33 L374.19 342.56 L374.25 342.79 L374.31 343.02 L374.37 343.25 L374.43 343.49 L374.49 343.74 L374.55 343.98 L374.61 344.23 L374.67 344.48 L374.73 344.74 L374.79 345.00 L374.85 345.26 L374.91 345.53 L374.97 345.80 L375.03 346.07 L375.09 346.35 L375.15 346.64 L375.21 346.93 L375.27 347.22 L375.33 347.52 L375.38 347.83 L375.44 348.14 L375.50 348.46 L375.56 348.78 L375.62 349.11 L375.68 349.45 L375.74 349.79 L375.80 350.15 L375.86 350.50 L375.92 350.87 L375.98 351.25 L376.04 351.63 L376.10 352.03 L376.16 352.44 L376.22 352.85 L376.28 353.28 L376.34 353.72 L376.40 354.17 L376.46 354.64 L376.52 355.12 L376.58 355.62 L376.64 356.14 L376.70 356.67 L376.76 357.23 L376.82 357.81 L376.88 358.41 L376.94 359.04 L377.00 359.69 L377.06 360.38" fill="none" stroke="#18bde4" stroke-width="1.5" stroke-dasharray="5.8 3.9"/>
<path d="M233.9 39.8 H287.0" stroke="#000" stroke-width="1.5"/>
<path d="M233.9 65.7 H287.0" stroke="#2ca02c" stroke-width="1.5" stroke-dasharray="10.2 4.1 4 4.1"/>
<path d="M233.9 92.1 H287.0" stroke="#ff7f0e" stroke-width="1.5" stroke-dasharray="1.5 1.58"/>
<path d="M233.9 118.3 H287.0" stroke="#18bde4" stroke-width="1.5" stroke-dasharray="5.6 4.1"/>
<g opacity="0.999">
<text transform="translate(296.2,40.4) scale(0.83,1)" text-anchor="start" fill="#000" stroke="#000" stroke-width="0.75" stroke-linejoin="round" style="font-family:'Liberation Serif',serif;font-size:16.4px;font-weight:normal">D</text>
<text transform="translate(306.5,44.9)" text-anchor="start" fill="#000" stroke="#000" stroke-width="0.8" stroke-linejoin="round" style="font-family:'Liberation Serif',serif;font-size:10.2px;font-weight:normal">t</text>
<text transform="translate(296.2,66.2) scale(0.83,1)" text-anchor="start" fill="#2ca02c" stroke="#2ca02c" stroke-width="0.75" stroke-linejoin="round" style="font-family:'Liberation Serif',serif;font-size:16.4px;font-weight:normal">D</text>
<text transform="translate(306.5,70.7) scale(0.92,1)" text-anchor="start" fill="#2ca02c" stroke="#2ca02c" stroke-width="0.8" stroke-linejoin="round" style="font-family:'Liberation Serif',serif;font-size:10.2px;font-weight:normal">KRT</text>
<text transform="translate(296.2,92.0) scale(0.83,1)" text-anchor="start" fill="#ff7f0e" stroke="#ff7f0e" stroke-width="0.75" stroke-linejoin="round" style="font-family:'Liberation Serif',serif;font-size:16.4px;font-weight:normal">D</text>
<text transform="translate(306.5,96.5) scale(0.92,1)" text-anchor="start" fill="#ff7f0e" stroke="#ff7f0e" stroke-width="0.8" stroke-linejoin="round" style="font-family:'Liberation Serif',serif;font-size:10.2px;font-weight:normal">CZ</text>
<text transform="translate(296.2,118.0) scale(0.83,1)" text-anchor="start" fill="#18bde4" stroke="#18bde4" stroke-width="0.75" stroke-linejoin="round" style="font-family:'Liberation Serif',serif;font-size:16.4px;font-weight:normal">D</text>
<text transform="translate(306.5,122.5) scale(0.92,1)" text-anchor="start" fill="#18bde4" stroke="#18bde4" stroke-width="0.8" stroke-linejoin="round" style="font-family:'Liberation Serif',serif;font-size:10.2px;font-weight:normal">TGS</text>
<text transform="translate(31.05,71.65999999999998) scale(1.08,1)" text-anchor="middle" fill="#000" stroke="#000" stroke-width="0.45" stroke-linejoin="round" style="font-family:'Liberation Sans',sans-serif;font-size:16.2px;font-weight:normal">6</text>
<text transform="translate(31.05,158.71999999999997) scale(1.08,1)" text-anchor="middle" fill="#000" stroke="#000" stroke-width="0.45" stroke-linejoin="round" style="font-family:'Liberation Sans',sans-serif;font-size:16.2px;font-weight:normal">4</text>
<text transform="translate(31.05,245.77999999999997) scale(1.08,1)" text-anchor="middle" fill="#000" stroke="#000" stroke-width="0.45" stroke-linejoin="round" style="font-family:'Liberation Sans',sans-serif;font-size:16.2px;font-weight:normal">2</text>
<text transform="translate(31.05,332.84) scale(1.08,1)" text-anchor="middle" fill="#000" stroke="#000" stroke-width="0.45" stroke-linejoin="round" style="font-family:'Liberation Sans',sans-serif;font-size:16.2px;font-weight:normal">0</text>
<text transform="translate(47.7,391.0) scale(1.08,1)" text-anchor="middle" fill="#000" stroke="#000" stroke-width="0.45" stroke-linejoin="round" style="font-family:'Liberation Sans',sans-serif;font-size:16.2px;font-weight:normal">0</text>
<text transform="translate(162.15,391.3) scale(1.08,1)" text-anchor="middle" fill="#000" stroke="#000" stroke-width="0.45" stroke-linejoin="round" style="font-family:'Liberation Sans',sans-serif;font-size:16.2px;font-weight:normal">5</text>
<text transform="translate(172.25,391.3)" text-anchor="middle" fill="#000" stroke="#000" stroke-width="0.45" stroke-linejoin="round" style="font-family:'Liberation Sans',sans-serif;font-size:16.2px;font-weight:normal">×</text>
<text transform="translate(183.7,391.3) scale(0.8,1)" text-anchor="middle" fill="#000" stroke="#000" stroke-width="0.45" stroke-linejoin="round" style="font-family:'Liberation Sans',sans-serif;font-size:16.2px;font-weight:normal">1</text>
<text transform="translate(192.5,391.3) scale(0.99,1)" text-anchor="middle" fill="#000" stroke="#000" stroke-width="0.45" stroke-linejoin="round" style="font-family:'Liberation Sans',sans-serif;font-size:16.2px;font-weight:normal">0</text>
<text transform="translate(201.3,386.5)" text-anchor="middle" fill="#000" stroke="#000" stroke-width="0.7" stroke-linejoin="round" style="font-family:'Liberation Sans',sans-serif;font-size:10.2px;font-weight:normal">5</text>
<text transform="translate(305.9,391.3) scale(0.8,1)" text-anchor="middle" fill="#000" stroke="#000" stroke-width="0.45" stroke-linejoin="round" style="font-family:'Liberation Sans',sans-serif;font-size:16.2px;font-weight:normal">1</text>
<text transform="translate(314.6,391.3) scale(0.99,1)" text-anchor="middle" fill="#000" stroke="#000" stroke-width="0.45" stroke-linejoin="round" style="font-family:'Liberation Sans',sans-serif;font-size:16.2px;font-weight:normal">0</text>
<text transform="translate(323.3,386.5)" text-anchor="middle" fill="#000" stroke="#000" stroke-width="0.7" stroke-linejoin="round" style="font-family:'Liberation Sans',sans-serif;font-size:10.2px;font-weight:normal">6</text>
<text transform="translate(212.7,407.4) scale(1.1,1)" text-anchor="start" fill="#000" stroke="#000" stroke-width="0.7" stroke-linejoin="round" style="font-family:'Liberation Serif',serif;font-size:17.5px;font-weight:normal">r</text>
<text transform="translate(220.8,412.3) scale(1.08,1)" text-anchor="start" fill="#000" stroke="#000" stroke-width="0.6" stroke-linejoin="round" style="font-family:'Liberation Serif',serif;font-size:11.0px;font-weight:normal">0</text>
<text transform="translate(13.6,217.5) rotate(-90)" text-anchor="start" fill="#000" stroke="#000" stroke-width="0.6" stroke-linejoin="round" style="font-family:'Liberation Serif',serif;font-size:16.2px;font-weight:normal">lo</text>
<text transform="translate(13.6,203.6) rotate(-90)" text-anchor="start" fill="#000" stroke="#000" stroke-width="0.6" stroke-linejoin="round" style="font-family:'Liberation Serif',serif;font-size:16.2px;font-weight:normal">g</text>
<text transform="translate(13.6,184.9) rotate(-90) scale(0.83,1)" text-anchor="start" fill="#000" stroke="#000" stroke-width="0.75" stroke-linejoin="round" style="font-family:'Liberation Serif',serif;font-size:16.4px;font-weight:normal">D</text>
</g>
</svg></body></html>
